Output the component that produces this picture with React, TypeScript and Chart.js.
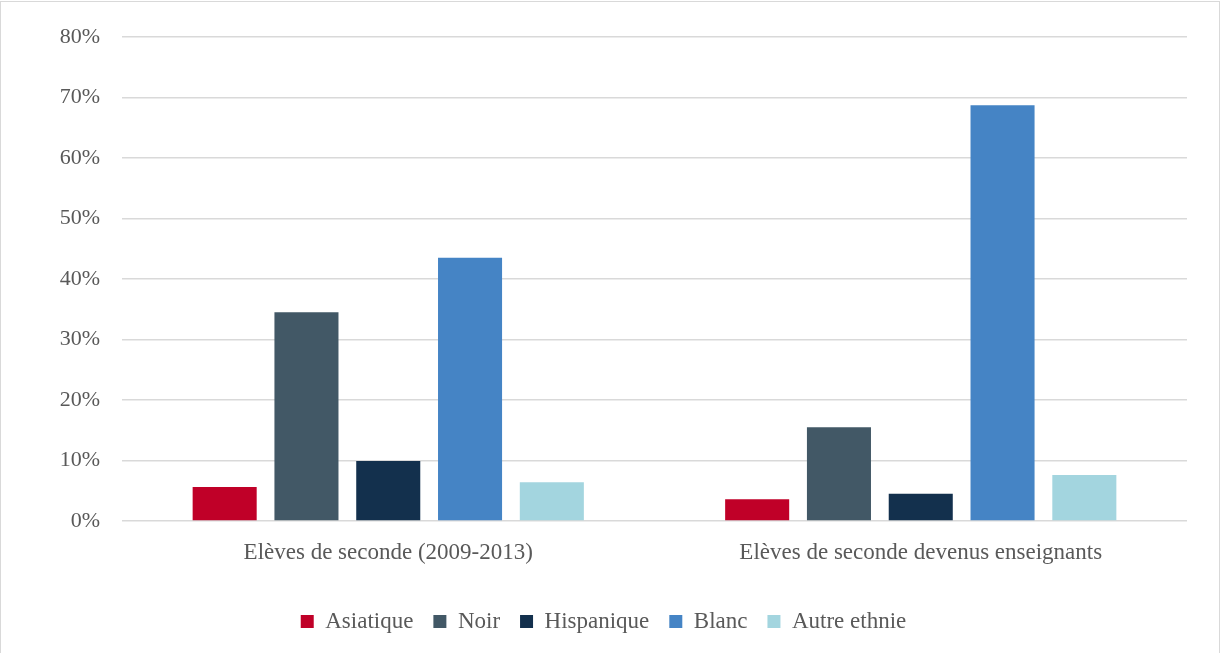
import React, { useEffect, useRef } from "react";
import { Chart, registerables } from "chart.js";

Chart.register(...registerables);

const categories = ["Elèves de seconde (2009-2013)", "Elèves de seconde devenus enseignants"];
const seriesNames = ["Asiatique", "Noir", "Hispanique", "Blanc", "Autre ethnie"];
const asiatique = [5.6, 3.6];
const noir = [34.5, 15.5];
const hispanique = [9.9, 4.5];
const blanc = [43.5, 68.7];
const autre = [6.4, 7.6];
const seriesColors = ["#C00028", "#425866", "#13304D", "#4584C5", "#A3D5DF"];
const yTicks = [0, 10, 20, 30, 40, 50, 60, 70, 80];

const FONT = "'Liberation Serif', 'Times New Roman', serif";
const TEXT = "#595959";

export default function App() {
  const ref = useRef<HTMLCanvasElement | null>(null);

  useEffect(() => {
    document.body.style.margin = "0";
    document.body.style.overflow = "hidden";
    const values = [asiatique, noir, hispanique, blanc, autre];
    const chart = new Chart(ref.current as HTMLCanvasElement, {
      type: "bar",
      data: {
        labels: categories,
        datasets: seriesNames.map((name, i) => ({
          label: name,
          data: values[i],
          backgroundColor: seriesColors[i],
          borderWidth: 0,
          categoryPercentage: 0.768,
          barPercentage: 0.783,
        })),
      },
      options: {
        responsive: false,
        animation: false,
        layout: { padding: { left: 20, right: 36, top: 37, bottom: 10 } },
        plugins: {
          tooltip: { enabled: false },
          legend: {
            position: "bottom",
            labels: {
              font: { family: FONT, size: 23 },
              color: TEXT,
              boxWidth: 13,
              boxHeight: 13,
              padding: 20,
            },
          },
        },
        scales: {
          x: {
            grid: { display: false, drawTicks: false },
            border: { display: false },
            ticks: {
              font: { family: FONT, size: 23 },
              color: TEXT,
              padding: 18,
              maxRotation: 0,
            },
            afterFit: (scale: any) => {
              scale.height = 69;
            },
          },
          y: {
            min: 0,
            max: 80,
            afterBuildTicks: (scale: any) => {
              scale.ticks = yTicks.map((v) => ({ value: v }));
            },
            grid: { color: "#d9d9d9", lineWidth: 1.5, drawTicks: false },
            border: { display: false },
            ticks: {
              font: { family: FONT, size: 22 },
              color: TEXT,
              padding: 22,
              callback: (v: any) => `${v}%`,
            },
            afterFit: (scale: any) => {
              scale.width = 102;
            },
          },
        },
      },
    });
    return () => chart.destroy();
  }, []);

  return (
    <div style={{ position: "absolute", left: 0, top: 0, width: 1223, height: 653, background: "#fff" }}>
      <canvas ref={ref} width={1223} height={653} style={{ position: "absolute", left: 0, top: 0, width: 1223, height: 653 }} />
      <div
        style={{
          position: "absolute",
          left: 0,
          top: 1,
          width: 1220,
          height: 652,
          boxSizing: "border-box",
          border: "1px solid #d9d9d9",
          borderBottom: "none",
          pointerEvents: "none",
        }}
      />
    </div>
  );
}
